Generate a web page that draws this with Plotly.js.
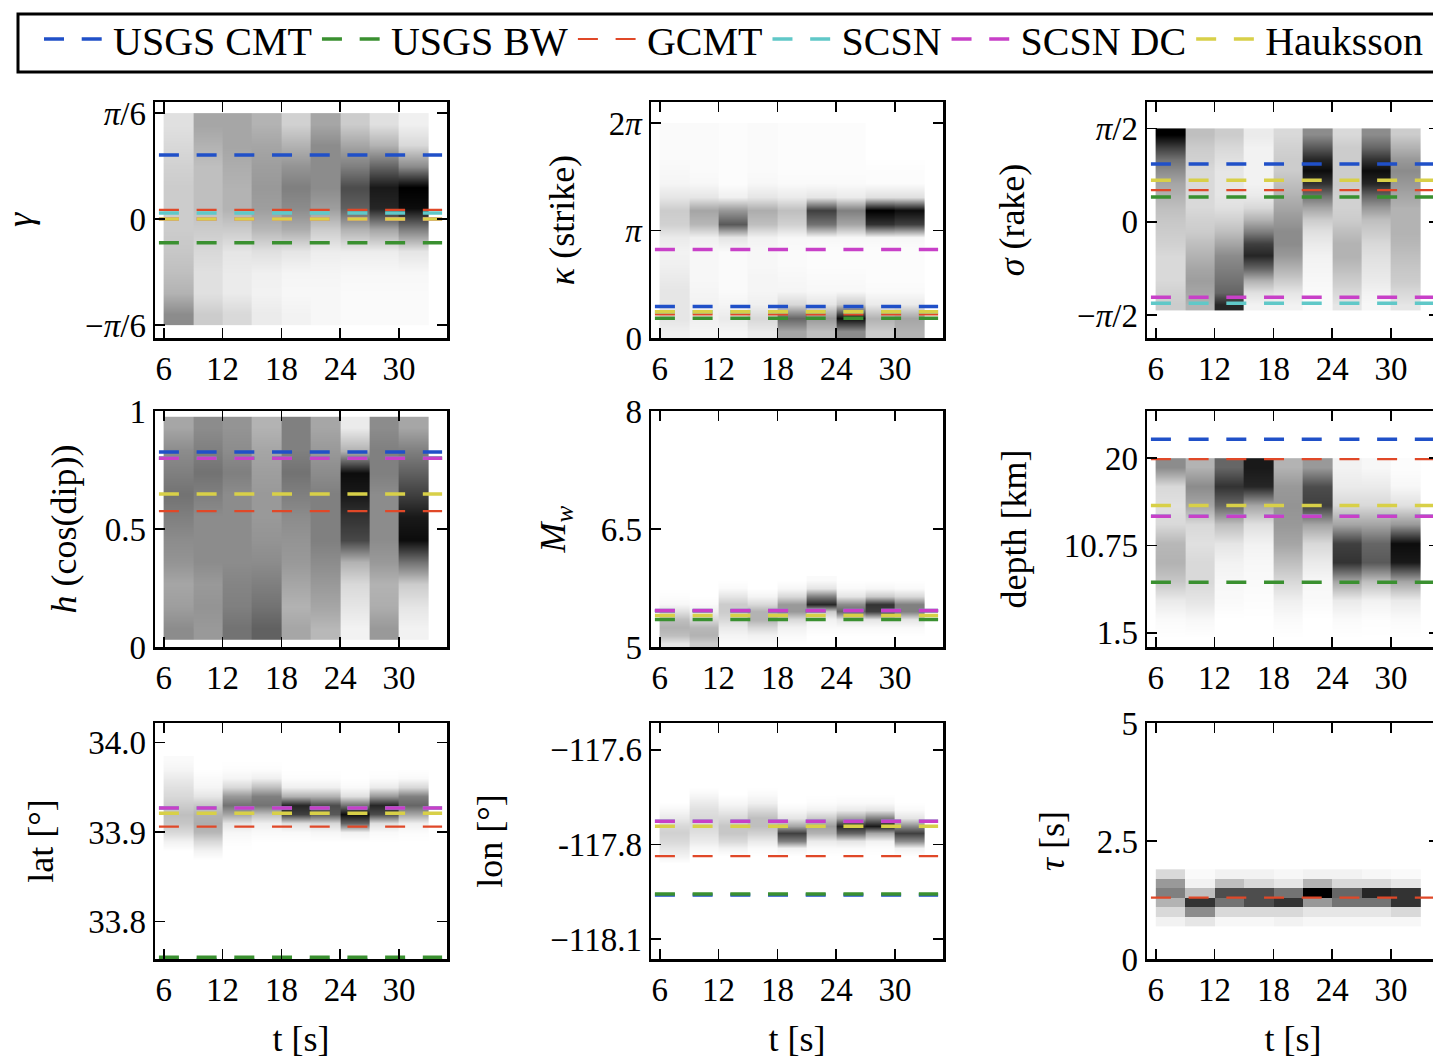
<!DOCTYPE html>
<html>
<head>
<meta charset="utf-8">
<script src="https://cdn.plot.ly/plotly-3.0.1.min.js"></script>
<style>
  html, body { margin: 0; padding: 0; overflow: hidden; background: #fff; width: 1433px; height: 1064px; }
</style>
</head>
<body>
<div id="chart"></div>
<script>
// ---- time windows (s): each posterior slice covers [start, start + 3) ----
const windowStart = [6, 9, 12, 15, 18, 21, 24, 27, 30];
const windowWidth = 3;
const refSpan = [5.5, 34.4];           // t-extent of the catalogue reference lines
const timeTicks = [6, 12, 18, 24, 30];

// ---- catalogue solutions ----
const sources = ['USGS CMT', 'USGS BW', 'GCMT', 'SCSN', 'SCSN DC', 'Hauksson'];
const sourceColors = ['#2050c8', '#3a9030', '#e04828', '#60c8c8', '#c840c8', '#d8d048'];
const sourceWidths = [3.5, 3.5, 2.2, 3.5, 3.5, 3.5];

// ---- gamma (lune longitude) ----
const gammaBins = [-0.471, -0.367, -0.262, -0.157, -0.052, 0.052, 0.157, 0.262, 0.367, 0.471];
const gammaDensity = [
  [0.45, 0.30, 0.25, 0.22, 0.20, 0.20, 0.20, 0.18, 0.15, 0.12],
  [0.20, 0.12, 0.12, 0.15, 0.20, 0.25, 0.25, 0.25, 0.30, 0.35],
  [0.15, 0.08, 0.08, 0.10, 0.20, 0.30, 0.30, 0.32, 0.35, 0.35],
  [0.08, 0.05, 0.06, 0.12, 0.28, 0.38, 0.40, 0.38, 0.35, 0.30],
  [0.05, 0.03, 0.04, 0.10, 0.32, 0.45, 0.50, 0.42, 0.30, 0.18],
  [0.03, 0.03, 0.04, 0.07, 0.20, 0.38, 0.45, 0.45, 0.45, 0.35],
  [0.02, 0.02, 0.03, 0.07, 0.30, 0.62, 0.70, 0.50, 0.35, 0.20],
  [0.02, 0.02, 0.03, 0.07, 0.35, 0.85, 0.90, 0.60, 0.30, 0.12],
  [0.02, 0.02, 0.03, 0.10, 0.50, 0.95, 1.00, 0.45, 0.15, 0.06]
];
const gammaRef = [0.316, -0.118, 0.045, 0.03, 0, 0];

// ---- kappa (strike) ----
const kappaBins = [0.196, 0.589, 0.982, 1.374, 1.767, 2.160, 2.553, 2.945, 3.338, 3.731, 4.123, 4.516, 4.909, 5.301, 5.694, 6.087];
const kappaDensity = [
  [0.06, 0.10, 0.10, 0.10, 0.08, 0.06, 0.05, 0.08, 0.18, 0.20, 0.10, 0.04, 0.03, 0.02, 0.02, 0.02],
  [0.04, 0.06, 0.05, 0.04, 0.03, 0.03, 0.03, 0.06, 0.28, 0.35, 0.10, 0.03, 0.02, 0.02, 0.02, 0.02],
  [0.04, 0.08, 0.04, 0.02, 0.02, 0.02, 0.02, 0.10, 0.65, 0.40, 0.06, 0.01, 0.01, 0.01, 0.01, 0.01],
  [0.08, 0.15, 0.06, 0.04, 0.04, 0.03, 0.03, 0.05, 0.25, 0.32, 0.10, 0.03, 0.02, 0.02, 0.02, 0.02],
  [0.35, 0.60, 0.15, 0.04, 0.03, 0.02, 0.02, 0.03, 0.18, 0.25, 0.08, 0.02, 0.01, 0.01, 0.01, 0.01],
  [0.25, 0.40, 0.10, 0.03, 0.02, 0.01, 0.01, 0.03, 0.55, 0.75, 0.10, 0.02, 0.01, 0.01, 0.01, 0.01],
  [0.45, 0.95, 0.20, 0.03, 0.02, 0.01, 0.01, 0.03, 0.35, 0.50, 0.08, 0.02, 0.01, 0.01, 0.01, 0.01],
  [0.20, 0.30, 0.08, 0.02, 0.01, 0.01, 0.01, 0.03, 0.80, 1.00, 0.12, 0.01, 0.01, 0.00, 0.00, 0.00],
  [0.30, 0.35, 0.08, 0.02, 0.01, 0.01, 0.01, 0.03, 0.75, 0.95, 0.12, 0.01, 0.01, 0.00, 0.00, 0.00]
];
const kappaRef = [0.92, 0.58, 0.69, 0.77, 2.59, 0.77];

// ---- sigma (rake) ----
const sigmaBins = [-1.39, -1.18, -0.98, -0.78, -0.57, -0.37, -0.16, 0.04, 0.24, 0.45, 0.65, 0.86, 1.06, 1.26, 1.47];
const sigmaDensity = [
  [0.20, 0.18, 0.15, 0.15, 0.15, 0.18, 0.20, 0.22, 0.25, 0.30, 0.35, 0.45, 0.55, 0.75, 1.00],
  [0.30, 0.35, 0.38, 0.35, 0.30, 0.25, 0.20, 0.18, 0.15, 0.15, 0.15, 0.15, 0.18, 0.20, 0.25],
  [0.85, 0.60, 0.55, 0.50, 0.45, 0.35, 0.25, 0.18, 0.12, 0.10, 0.10, 0.10, 0.12, 0.15, 0.20],
  [0.05, 0.12, 0.30, 0.60, 0.85, 0.75, 0.50, 0.30, 0.15, 0.08, 0.05, 0.05, 0.05, 0.05, 0.08],
  [0.05, 0.10, 0.20, 0.30, 0.40, 0.45, 0.45, 0.40, 0.35, 0.30, 0.25, 0.20, 0.20, 0.18, 0.15],
  [0.02, 0.02, 0.03, 0.04, 0.05, 0.08, 0.12, 0.20, 0.35, 0.55, 0.80, 0.95, 0.85, 0.65, 0.45],
  [0.10, 0.15, 0.20, 0.25, 0.30, 0.30, 0.25, 0.20, 0.18, 0.18, 0.20, 0.20, 0.20, 0.20, 0.15],
  [0.03, 0.05, 0.08, 0.10, 0.12, 0.15, 0.20, 0.25, 0.40, 0.60, 0.85, 0.95, 0.80, 0.60, 0.45],
  [0.10, 0.15, 0.20, 0.22, 0.25, 0.28, 0.30, 0.30, 0.30, 0.35, 0.40, 0.45, 0.40, 0.30, 0.20]
];
const sigmaRef = [0.975, 0.42, 0.535, -1.37, -1.27, 0.70];

// ---- h = cos(dip) ----
const hBins = [0.077, 0.172, 0.266, 0.361, 0.455, 0.550, 0.644, 0.739, 0.833, 0.928];
const hDensity = [
  [0.45, 0.38, 0.35, 0.42, 0.45, 0.50, 0.55, 0.50, 0.45, 0.35],
  [0.40, 0.42, 0.40, 0.45, 0.45, 0.45, 0.50, 0.55, 0.50, 0.45],
  [0.55, 0.50, 0.48, 0.45, 0.45, 0.45, 0.45, 0.50, 0.45, 0.42],
  [0.62, 0.55, 0.50, 0.45, 0.42, 0.40, 0.40, 0.38, 0.35, 0.30],
  [0.35, 0.30, 0.35, 0.40, 0.42, 0.45, 0.50, 0.55, 0.50, 0.50],
  [0.28, 0.35, 0.40, 0.45, 0.50, 0.50, 0.50, 0.45, 0.40, 0.35],
  [0.05, 0.10, 0.15, 0.30, 0.72, 0.80, 0.90, 0.95, 0.30, 0.08],
  [0.40, 0.32, 0.30, 0.40, 0.45, 0.45, 0.45, 0.50, 0.50, 0.45],
  [0.05, 0.10, 0.20, 0.55, 0.95, 0.90, 0.75, 0.62, 0.50, 0.35]
];
const hRef = [0.826, 0.80, 0.576, 0.80, 0.80, 0.648];

// ---- moment magnitude ----
const mwBins = [5.05, 5.15, 5.25, 5.35, 5.45, 5.55, 5.65, 5.75, 5.85];
const mwDensity = [
  [0.10, 0.25, 0.30, 0.25, 0.12, 0.03, 0.01, 0.00, 0.00],
  [0.20, 0.30, 0.28, 0.15, 0.06, 0.02, 0.00, 0.00, 0.00],
  [0.02, 0.04, 0.08, 0.15, 0.20, 0.20, 0.10, 0.02, 0.00],
  [0.02, 0.05, 0.15, 0.30, 0.30, 0.15, 0.04, 0.00, 0.00],
  [0.00, 0.02, 0.05, 0.15, 0.40, 0.40, 0.15, 0.03, 0.00],
  [0.00, 0.00, 0.02, 0.05, 0.20, 0.85, 0.50, 0.10, 0.02],
  [0.00, 0.00, 0.02, 0.10, 0.60, 0.45, 0.10, 0.02, 0.00],
  [0.00, 0.00, 0.02, 0.10, 0.75, 0.80, 0.20, 0.03, 0.00],
  [0.00, 0.00, 0.02, 0.10, 0.50, 0.50, 0.15, 0.02, 0.00]
];
const mwRef = [5.46, 5.35, 5.455, 5.465, 5.465, 5.40];

// ---- depth (km) ----
const depthBins = [1, 3, 5, 7, 9, 11, 13, 15, 17, 19];
const depthDensity = [
  [0.00, 0.02, 0.08, 0.22, 0.30, 0.28, 0.15, 0.12, 0.15, 0.45],
  [0.00, 0.03, 0.10, 0.15, 0.15, 0.12, 0.15, 0.35, 0.45, 0.30],
  [0.00, 0.00, 0.02, 0.03, 0.05, 0.10, 0.25, 0.60, 0.80, 0.60],
  [0.00, 0.00, 0.01, 0.02, 0.03, 0.05, 0.12, 0.35, 0.85, 0.90],
  [0.00, 0.02, 0.06, 0.15, 0.25, 0.35, 0.40, 0.42, 0.40, 0.30],
  [0.00, 0.00, 0.02, 0.03, 0.08, 0.15, 0.35, 0.75, 0.70, 0.40],
  [0.00, 0.02, 0.08, 0.35, 0.80, 0.75, 0.35, 0.15, 0.08, 0.05],
  [0.00, 0.01, 0.05, 0.25, 0.65, 0.60, 0.35, 0.15, 0.08, 0.03],
  [0.00, 0.02, 0.08, 0.35, 0.90, 0.95, 0.40, 0.12, 0.03, 0.01]
];
const depthRef = [22.0, 6.85, 19.9, 13.85, 13.85, 15.0];

// ---- latitude (deg) ----
const latBins = [33.87, 33.88, 33.89, 33.90, 33.91, 33.92, 33.93, 33.94, 33.95, 33.96, 33.97, 33.98];
const latDensity = [
  [0.00, 0.00, 0.05, 0.15, 0.22, 0.25, 0.20, 0.15, 0.12, 0.08, 0.04, 0.02],
  [0.00, 0.05, 0.15, 0.28, 0.32, 0.30, 0.22, 0.10, 0.04, 0.02, 0.00, 0.00],
  [0.00, 0.00, 0.01, 0.03, 0.10, 0.35, 0.55, 0.40, 0.15, 0.04, 0.01, 0.00],
  [0.00, 0.00, 0.00, 0.02, 0.06, 0.25, 0.55, 0.50, 0.25, 0.06, 0.01, 0.00],
  [0.00, 0.00, 0.00, 0.02, 0.12, 0.75, 0.85, 0.30, 0.06, 0.01, 0.00, 0.00],
  [0.00, 0.00, 0.00, 0.03, 0.15, 0.65, 0.70, 0.30, 0.06, 0.01, 0.00, 0.00],
  [0.00, 0.00, 0.00, 0.05, 0.60, 0.95, 0.55, 0.12, 0.02, 0.00, 0.00, 0.00],
  [0.00, 0.00, 0.00, 0.02, 0.12, 0.70, 0.85, 0.40, 0.08, 0.01, 0.00, 0.00],
  [0.00, 0.00, 0.00, 0.01, 0.06, 0.35, 0.60, 0.50, 0.15, 0.02, 0.00, 0.00]
];
const latRef = [33.757, 33.760, 33.906, 33.927, 33.927, 33.921];

// ---- longitude (deg) ----
const lonBins = [-117.92, -117.90, -117.88, -117.86, -117.84, -117.82, -117.80, -117.78, -117.76, -117.74, -117.72, -117.70];
const lonDensity = [
  [0.00, 0.00, 0.05, 0.10, 0.15, 0.18, 0.15, 0.08, 0.03, 0.00, 0.00, 0.00],
  [0.00, 0.00, 0.00, 0.03, 0.08, 0.12, 0.15, 0.15, 0.12, 0.08, 0.03, 0.00],
  [0.00, 0.00, 0.00, 0.05, 0.15, 0.22, 0.22, 0.15, 0.08, 0.03, 0.00, 0.00],
  [0.00, 0.00, 0.00, 0.02, 0.08, 0.18, 0.25, 0.25, 0.15, 0.06, 0.02, 0.00],
  [0.00, 0.00, 0.00, 0.05, 0.50, 0.75, 0.35, 0.10, 0.03, 0.00, 0.00, 0.00],
  [0.00, 0.00, 0.00, 0.02, 0.08, 0.30, 0.38, 0.20, 0.05, 0.01, 0.00, 0.00],
  [0.00, 0.00, 0.00, 0.02, 0.10, 0.60, 0.85, 0.35, 0.08, 0.02, 0.00, 0.00],
  [0.00, 0.00, 0.00, 0.01, 0.05, 0.35, 0.90, 0.50, 0.10, 0.02, 0.00, 0.00],
  [0.00, 0.00, 0.00, 0.05, 0.45, 0.75, 0.45, 0.10, 0.02, 0.00, 0.00, 0.00]
];
const lonRef = [-117.984, -117.981, -117.881, -117.789, -117.789, -117.802];

// ---- tau (half duration, s) ----
const tauBins = [0.8, 1.0, 1.2, 1.4, 1.6, 1.8];
const tauDensity = [
  [0.05, 0.15, 0.30, 0.50, 0.40, 0.15],
  [0.10, 0.45, 0.80, 0.25, 0.05, 0.02],
  [0.03, 0.15, 0.55, 0.70, 0.25, 0.05],
  [0.03, 0.15, 0.70, 0.70, 0.15, 0.05],
  [0.05, 0.15, 0.80, 0.55, 0.10, 0.03],
  [0.03, 0.10, 0.40, 1.00, 0.30, 0.05],
  [0.03, 0.10, 0.55, 0.60, 0.15, 0.05],
  [0.03, 0.10, 0.55, 0.85, 0.15, 0.03],
  [0.03, 0.15, 0.80, 0.80, 0.10, 0.02]
];
const tauRef = [null, null, 1.3, null, null, null];

// ---- panel definitions (row-major, 3 x 3) ----
const PI = Math.PI;
const panels = [
  { bins: gammaBins, dens: gammaDensity, ref: gammaRef, smooth: true, range: [-0.588, 0.578],
    tickvals: [-PI / 6, 0, PI / 6], ticktext: ['−<i>π</i>/6', '0', '<i>π</i>/6'], title: '<i>γ</i>', standoff: 48 },
  { bins: kappaBins, dens: kappaDensity, ref: kappaRef, smooth: true, range: [0, 6.9],
    tickvals: [0, PI, 2 * PI], ticktext: ['0', '<i>π</i>', '2<i>π</i>'], title: '<i>κ</i> (strike)', standoff: 24 },
  { bins: sigmaBins, dens: sigmaDensity, ref: sigmaRef, smooth: true, range: [-1.955, 2.02],
    tickvals: [-PI / 2, 0, PI / 2], ticktext: ['−<i>π</i>/2', '0', '<i>π</i>/2'], title: '<i>σ</i> (rake)', standoff: 42 },
  { bins: hBins, dens: hDensity, ref: hRef, smooth: true, range: [0, 1],
    tickvals: [0, 0.5, 1], ticktext: ['0', '0.5', '1'], title: '<i>h</i> (cos(dip))', standoff: 17 },
  { bins: mwBins, dens: mwDensity, ref: mwRef, smooth: true, range: [5, 8],
    tickvals: [5, 6.5, 8], ticktext: ['5', '6.5', '8'], title: '<i>M<sub>w</sub></i>', standoff: 24 },
  { bins: depthBins, dens: depthDensity, ref: depthRef, smooth: true, range: [0, 25],
    tickvals: [1.5, 10.75, 20], ticktext: ['1.5', '10.75', '20'], title: 'depth [km]', standoff: 26 },
  { bins: latBins, dens: latDensity, ref: latRef, smooth: true, range: [33.758, 34.022],
    tickvals: [33.8, 33.9, 34.0], ticktext: ['33.8', '33.9', '34.0'], title: 'lat [°]', standoff: 24 },
  { bins: lonBins, dens: lonDensity, ref: lonRef, smooth: true, range: [-118.153, -117.529],
    tickvals: [-118.1, -117.85, -117.6], ticktext: ['−118.1', '-117.8', '−117.6'], title: 'lon [°]', standoff: 37 },
  { bins: tauBins, dens: tauDensity, ref: tauRef, smooth: false, range: [0, 5],
    tickvals: [0, 2.5, 5], ticktext: ['0', '2.5', '5'], title: '<i>τ</i> [s]', standoff: 21 }
];

// ---- page geometry (px) ----
const W = 1560, H = 1064;
const colLeft = [155, 651, 1147], boxW = 292;
const rowTop = [102, 411, 723], boxH = 236;
const FONT = 'Liberation Serif, Times New Roman, serif';
const greyScale = [[0, '#ffffff'], [1, '#000000']];
const dashPattern = '20px,17.7px';

function windowHeatmap(p, k) {
  const xs = [], cols = [];
  if (p.smooth) {
    // duplicate each window at both of its edges so smoothing stays vertical only
    const eps = 0.01;
    const blank = p.bins.map(() => 0);
    xs.push(windowStart[0] - eps); cols.push(blank);
    windowStart.forEach((t, i) => {
      xs.push(t + eps, t + windowWidth - eps);
      cols.push(p.dens[i], p.dens[i]);
    });
    xs.push(windowStart[windowStart.length - 1] + windowWidth + eps); cols.push(blank);
  } else {
    windowStart.forEach((t, i) => { xs.push(t + windowWidth / 2); cols.push(p.dens[i]); });
  }
  const z = p.bins.map((_, j) => cols.map(c => c[j]));
  return {
    type: 'heatmap', x: xs, y: p.bins, z: z, zmin: 0, zmax: 1,
    colorscale: greyScale, showscale: false, zsmooth: p.smooth ? 'best' : false,
    xaxis: 'x' + (k === 0 ? '' : k + 1), yaxis: 'y' + (k === 0 ? '' : k + 1),
    hoverinfo: 'skip', showlegend: false
  };
}

const traces = [];
const layout = {
  width: W, height: H,
  margin: { l: 0, r: 0, t: 0, b: 0 },
  paper_bgcolor: '#ffffff', plot_bgcolor: '#ffffff',
  font: { family: FONT, size: 33, color: '#000' },
  showlegend: true,
  legend: {
    orientation: 'h', x: 39 / W, y: 1 - 39 / H, xanchor: 'left', yanchor: 'middle',
    bgcolor: 'rgba(0,0,0,0)', borderwidth: 0,
    font: { family: FONT, size: 40, color: '#000' },
    itemwidth: 64, traceorder: 'normal', itemclick: false
  },
  // frame around the legend strip
  shapes: [{
    type: 'rect', xref: 'paper', yref: 'paper',
    x0: 18 / W, x1: 1480 / W, y0: 1 - 72 / H, y1: 1 - 14 / H,
    line: { color: '#000', width: 3 }, fillcolor: 'rgba(0,0,0,0)', layer: 'below'
  }]
};

panels.forEach((p, k) => {
  const r = Math.floor(k / 3), c = k % 3;
  const sfx = k === 0 ? '' : String(k + 1);
  traces.push(windowHeatmap(p, k));
  p.ref.forEach((v, s) => {
    if (v === null) return;
    traces.push({
      type: 'scatter', mode: 'lines', x: refSpan, y: [v, v],
      name: sources[s], legendgroup: sources[s], showlegend: k === 0,
      line: { color: sourceColors[s], width: sourceWidths[s], dash: dashPattern },
      xaxis: 'x' + sfx, yaxis: 'y' + sfx, hoverinfo: 'skip'
    });
  });
  const x0 = colLeft[c], y0 = rowTop[r];
  const common = {
    showline: true, linewidth: 2.5, linecolor: '#000', mirror: 'ticks',
    ticks: 'inside', ticklen: 10, tickwidth: 1.5, tickcolor: '#000',
    showgrid: false, zeroline: false, fixedrange: true,
    tickfont: { family: FONT, size: 33, color: '#000' }
  };
  const xa = Object.assign({}, common, {
    domain: [x0 / W, (x0 + boxW) / W], anchor: 'y' + sfx,
    range: [5.1, 34.9], tickmode: 'array', tickvals: timeTicks,
    ticktext: timeTicks.map(String)
  });
  if (r === 2) xa.title = { text: 't [s]', font: { family: FONT, size: 36 }, standoff: 19 };
  layout['xaxis' + sfx] = xa;
  layout['yaxis' + sfx] = Object.assign({}, common, {
    domain: [1 - (y0 + boxH) / H, 1 - y0 / H], anchor: 'x' + sfx,
    range: p.range, tickmode: 'array', tickvals: p.tickvals, ticktext: p.ticktext,
    title: { text: p.title, font: { family: FONT, size: 36 }, standoff: p.standoff }
  });
});

Plotly.newPlot('chart', traces, layout, { staticPlot: true, displayModeBar: false });
</script>
</body>
</html>
